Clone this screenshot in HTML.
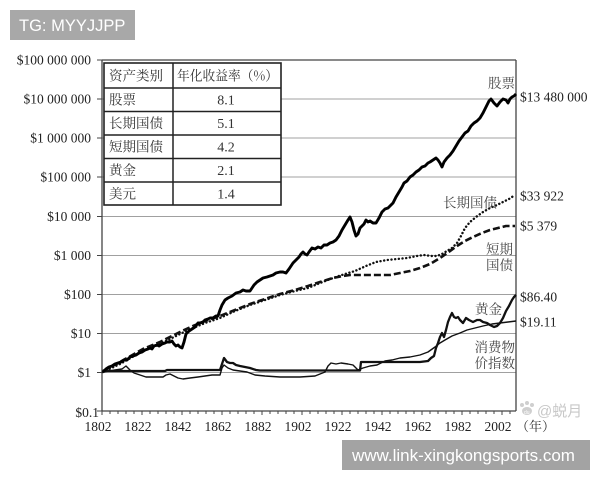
<!DOCTYPE html>
<html><head><meta charset="utf-8"><style>
html,body{margin:0;padding:0;background:#fff;}
svg{display:block;}
</style></head><body>
<svg width="600" height="480" viewBox="0 0 600 480" xmlns="http://www.w3.org/2000/svg">
<rect width="600" height="480" fill="#fff"/>
<!-- gridlines -->
<g stroke="#a0a0a0" stroke-width="1">
<line x1="102" y1="99" x2="516" y2="99"/>
<line x1="102" y1="138" x2="516" y2="138"/>
<line x1="102" y1="177" x2="516" y2="177"/>
<line x1="102" y1="216.5" x2="516" y2="216.5"/>
<line x1="102" y1="255.5" x2="516" y2="255.5"/>
<line x1="102" y1="294.5" x2="516" y2="294.5"/>
<line x1="102" y1="333.5" x2="516" y2="333.5"/>
<line x1="102" y1="372.5" x2="516" y2="372.5"/>
</g>
<!-- frame -->
<g stroke="#444" stroke-width="1.3" fill="none">
<line x1="102" y1="60" x2="516" y2="60"/>
<line x1="102" y1="60" x2="102" y2="411"/>
<line x1="516" y1="60" x2="516" y2="411"/>
<line x1="102" y1="411" x2="516" y2="411"/>
</g>
<!-- y ticks -->
<g stroke="#444" stroke-width="1">
<line x1="97" y1="60" x2="102" y2="60"/><line x1="97" y1="99" x2="102" y2="99"/>
<line x1="97" y1="138" x2="102" y2="138"/><line x1="97" y1="177" x2="102" y2="177"/>
<line x1="97" y1="216.5" x2="102" y2="216.5"/><line x1="97" y1="255.5" x2="102" y2="255.5"/>
<line x1="97" y1="294.5" x2="102" y2="294.5"/><line x1="97" y1="333.5" x2="102" y2="333.5"/>
<line x1="97" y1="372.5" x2="102" y2="372.5"/><line x1="97" y1="411" x2="102" y2="411"/>
</g>
<!-- x ticks -->
<g stroke="#444" stroke-width="1">
<line x1="102" y1="411" x2="102" y2="415"/><line x1="110" y1="411" x2="110" y2="414"/><line x1="118" y1="411" x2="118" y2="414"/><line x1="126" y1="411" x2="126" y2="414"/><line x1="134" y1="411" x2="134" y2="414"/><line x1="142" y1="411" x2="142" y2="415"/><line x1="150" y1="411" x2="150" y2="414"/><line x1="158" y1="411" x2="158" y2="414"/><line x1="166" y1="411" x2="166" y2="414"/><line x1="174" y1="411" x2="174" y2="414"/><line x1="182" y1="411" x2="182" y2="415"/><line x1="190" y1="411" x2="190" y2="414"/><line x1="198" y1="411" x2="198" y2="414"/><line x1="206" y1="411" x2="206" y2="414"/><line x1="214" y1="411" x2="214" y2="414"/><line x1="222" y1="411" x2="222" y2="415"/><line x1="230" y1="411" x2="230" y2="414"/><line x1="238" y1="411" x2="238" y2="414"/><line x1="246" y1="411" x2="246" y2="414"/><line x1="254" y1="411" x2="254" y2="414"/><line x1="262" y1="411" x2="262" y2="415"/><line x1="270" y1="411" x2="270" y2="414"/><line x1="278" y1="411" x2="278" y2="414"/><line x1="286" y1="411" x2="286" y2="414"/><line x1="294" y1="411" x2="294" y2="414"/><line x1="302" y1="411" x2="302" y2="415"/><line x1="310" y1="411" x2="310" y2="414"/><line x1="318" y1="411" x2="318" y2="414"/><line x1="326" y1="411" x2="326" y2="414"/><line x1="334" y1="411" x2="334" y2="414"/><line x1="342" y1="411" x2="342" y2="415"/><line x1="350" y1="411" x2="350" y2="414"/><line x1="358" y1="411" x2="358" y2="414"/><line x1="366" y1="411" x2="366" y2="414"/><line x1="374" y1="411" x2="374" y2="414"/><line x1="382" y1="411" x2="382" y2="415"/><line x1="390" y1="411" x2="390" y2="414"/><line x1="398" y1="411" x2="398" y2="414"/><line x1="406" y1="411" x2="406" y2="414"/><line x1="414" y1="411" x2="414" y2="414"/><line x1="422" y1="411" x2="422" y2="415"/><line x1="430" y1="411" x2="430" y2="414"/><line x1="438" y1="411" x2="438" y2="414"/><line x1="446" y1="411" x2="446" y2="414"/><line x1="454" y1="411" x2="454" y2="414"/><line x1="462" y1="411" x2="462" y2="415"/><line x1="470" y1="411" x2="470" y2="414"/><line x1="478" y1="411" x2="478" y2="414"/><line x1="486" y1="411" x2="486" y2="414"/><line x1="494" y1="411" x2="494" y2="414"/><line x1="502" y1="411" x2="502" y2="415"/><line x1="510" y1="411" x2="510" y2="414"/>
</g>
<!-- y labels -->
<g font-family="'Liberation Serif', 'Noto Serif CJK SC', serif" font-size="13.5" fill="#222" text-anchor="end">
<text x="91" y="64.5">$100 000 000</text>
<text x="91" y="103.5">$10 000 000</text>
<text x="91" y="142.5">$1 000 000</text>
<text x="91" y="181.5">$100 000</text>
<text x="91" y="221">$10 000</text>
<text x="91" y="260">$1 000</text>
<text x="91" y="299">$100</text>
<text x="91" y="338">$10</text>
<text x="91" y="377">$1</text>
<text x="99" y="417">$0.1</text>
</g>
<!-- x labels -->
<g font-family="'Liberation Serif', serif" font-size="13.5" fill="#222" text-anchor="middle">
<text x="98" y="431">1802</text><text x="138" y="431">1822</text><text x="178" y="431">1842</text>
<text x="218" y="431">1862</text><text x="258" y="431">1882</text><text x="298" y="431">1902</text>
<text x="338" y="431">1922</text><text x="378" y="431">1942</text><text x="418" y="431">1962</text>
<text x="458" y="431">1982</text><text x="498" y="431">2002</text>
</g>
<text font-family="'Noto Serif CJK SC', 'Liberation Serif', serif" x="516" y="431" font-size="13" fill="#333">（年）</text>

<!-- series -->
<g fill="none" stroke-linejoin="round">
<!-- CPI thin -->
<polyline stroke="#111" stroke-width="1.4" points="103,372 115,370 122,369 126,366 130,370 134,373 140,375 146,377 155,377 163,377 166,375 170,374 174,376 178,378 183,379 190,378 198,377 205,376 212,375 220,375 222,368 224,365 228,368 233,370 240,371 247,372 255,375 265,376 280,377 300,377 315,376 325,372 328,366 331,363 336,364 341,363 348,364 353,365 356,368 358,370 363,368 370,366 377,365 385,361 392,360 400,358 410,357 420,355 428,352 435,347 440,343 445,340 452,336 460,333 467,330 475,328 483,326 492,324 500,323 508,322 516,321"/>
<!-- Gold thick -->
<polyline stroke="#111" stroke-width="2.3" points="103,371 150,371 165,371 167,370 220,370 222,364 224,358 227,362 230,363 233,363 236,365 240,366 245,367 250,368 256,370 260,370.5 360,370.5 361,362 380,362 420,362 428,361 431,358 434,356 436,348 438,343 440,337 442,333 444,337 446,330 448,322 450,317 452,313 454,317 456,318 458,317 460,320 463,323 466,318 469,320 473,322 477,320 480,320 483,322 487,323 490,325 494,327 497,326 500,323 503,318 506,311 509,306 512,300 514,297 516,295"/>
<!-- Long bonds dotted -->
<polyline stroke="#111" stroke-width="2.4" stroke-linecap="round" stroke-dasharray="0.1 3.6" points="103,372 120,364 143,351 160,344 180,334 193,328 205,323 220,318 235,311 250,305 265,300 280,295 295,291 308,288 320,283 333,278 345,274 355,271 366,266 376,262 387,260 397,259 407,258 417,256 424,255 431,256 437,256 442,254 447,251 452,248 457,243 461,236 465,228 470,222 476,217 483,212 490,208 497,205 503,202 509,199 515,195"/>
<!-- Short bonds dashed -->
<polyline stroke="#111" stroke-width="2.6" stroke-dasharray="7 3" points="103,371 120,362 143,349 160,342 180,332 193,326 205,321 220,316 235,310 250,304 265,299 280,294 295,290 308,286 320,282 333,278 343,276 350,275 360,275 370,275 380,275 390,275 400,273 410,271 420,268 430,264 440,258 450,251 457,246 465,241 473,237 482,233 490,230 498,228 506,226 515,226"/>
<!-- Stocks thick -->
<polyline stroke="#000" stroke-width="2.9" points="103,372 106,369 109,367 112,366 115,364 118,363 121,362 124,360 127,360 130,357 133,356 136,355 139,353 142,352 145,350 148,349 150,348 152,349 154,346 157,345 159,346 162,344 165,343 167,342 170,342 172,341 174,344 176,346 178,345 180,347 182,348 184,342 186,334 189,331 192,329 195,327 198,323 200,323 203,322 205,320 208,319 210,318 213,318 216,316 218,316 220,310 222,305 225,300 228,298 232,296 236,293 240,292 243,290 246,291 250,291 252,288 254,285 257,282 260,280 263,278 267,277 270,276 273,275 276,273 280,272 283,272 286,273 289,269 291,266 293,263 296,260 299,257 301,254 303,252 305,254 307,255 309,252 312,248 315,249 318,247 321,248 324,245 327,245 330,243 333,242 336,240 339,236 342,230 345,225 348,220 350,217 352,222 354,230 356,236 358,234 360,228 362,226 364,224 366,220 368,222 370,221 373,223 376,223 379,218 382,212 385,209 388,208 390,206 393,203 396,197 399,192 402,187 404,183 407,181 410,177 413,175 416,172 419,170 422,167 425,166 428,163 430,162 433,160 436,158 438,160 440,163 442,167 444,162 447,158 450,155 453,151 456,146 459,141 462,137 465,133 468,131 471,126 474,123 477,121 480,118 483,113 486,107 489,101 491,99 494,103 497,106 500,102 503,99 506,100 508,103 510,99 512,97 514,96 516,94"/>
</g>

<!-- table -->
<g>
<rect x="104" y="63" width="177" height="142" fill="#fff" stroke="#222" stroke-width="1.6"/>
<g stroke="#222" stroke-width="1.5">
<line x1="173" y1="63" x2="173" y2="205"/>
<line x1="104" y1="88" x2="281" y2="88"/>
<line x1="104" y1="111.5" x2="281" y2="111.5"/>
<line x1="104" y1="135" x2="281" y2="135"/>
<line x1="104" y1="158.5" x2="281" y2="158.5"/>
<line x1="104" y1="182" x2="281" y2="182"/>
</g>
<g font-family="'Noto Serif CJK SC', 'Liberation Serif', serif" font-size="13.5" fill="#333">
<text x="109" y="80.5">资产类别</text>
<text x="177" y="80.5" textLength="101" lengthAdjust="spacingAndGlyphs">年化收益率（%）</text>
<text x="109" y="104.5">股票</text>
<text x="109" y="128">长期国债</text>
<text x="109" y="151.5">短期国债</text>
<text x="109" y="175">黄金</text>
<text x="109" y="198.5">美元</text>
</g>
<g font-family="'Liberation Serif', serif" font-size="14" fill="#333" text-anchor="middle">
<text x="226" y="104.5">8.1</text>
<text x="226" y="128">5.1</text>
<text x="226" y="151.5">4.2</text>
<text x="226" y="175">2.1</text>
<text x="226" y="198.5">1.4</text>
</g>
</g>

<!-- right labels -->
<g font-family="'Liberation Serif', serif" font-size="13.5" fill="#222">
<text x="520" y="101.5">$13 480 000</text>
<text x="520" y="200.5">$33 922</text>
<text x="520" y="230.5">$5 379</text>
<text x="520" y="301.5">$86.40</text>
<text x="520" y="326.5">$19.11</text>
</g>
<g font-family="'Noto Serif CJK SC', 'Liberation Serif', serif" font-size="13.5" fill="#444" text-anchor="end">
<text x="515" y="88">股票</text>
<text x="497" y="207.5">长期国债</text>
<text x="513" y="254">短期</text>
<text x="513" y="270">国债</text>
<text x="502" y="314">黄金</text>
<text x="515" y="352">消费物</text>
<text x="515" y="368">价指数</text>
</g>

<!-- weibo watermark -->
<g fill="#cfcfcf">
<circle cx="522" cy="405" r="2"/><circle cx="527" cy="403" r="2"/><circle cx="532" cy="405" r="2"/>
<ellipse cx="527" cy="411" rx="5" ry="4"/>
</g>
<text x="524" y="414" font-family="'Liberation Sans', sans-serif" font-size="5" fill="#fff">du</text>
<text x="537" y="416" font-family="'Liberation Sans', 'Noto Sans CJK SC', sans-serif" font-size="15" fill="#c8c8c8">@蜕月</text>

<!-- top-left watermark -->
<rect x="10" y="10" width="125" height="30" fill="#a8a8a8"/>
<text x="19" y="31" font-family="'Liberation Sans', sans-serif" font-size="16.5" fill="#fff">TG: MYYJJPP</text>

<!-- bottom watermark -->
<rect x="342" y="440" width="248" height="30" fill="#a3a3a3"/>
<text x="352" y="461" font-family="'Liberation Sans', sans-serif" font-size="17" fill="#fff">www.link-xingkongsports.com</text>
</svg>
</body></html>
